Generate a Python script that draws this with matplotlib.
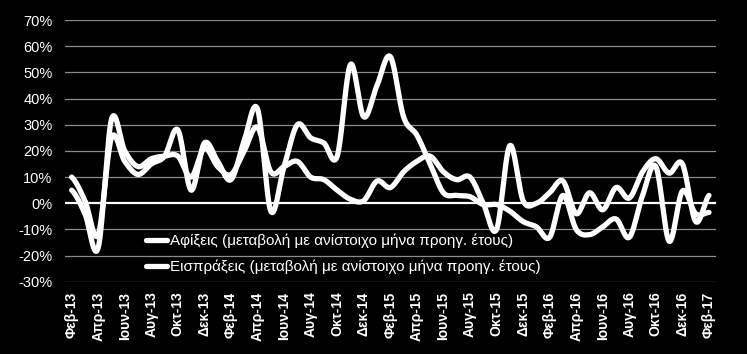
import numpy as np
import matplotlib.pyplot as plt

plt.rcParams['font.family'] = ['Liberation Sans', 'DejaVu Sans']

months_gr = ["Ιαν", "Φεβ", "Μαρ", "Απρ", "Μαϊ", "Ιουν", "Ιουλ", "Αυγ", "Σεπ", "Οκτ", "Νοε", "Δεκ"]
# Feb-2013 .. Feb-2017
labels = []
for k in range(49):
    m = (1 + k) % 12
    y = 13 + (1 + k) // 12
    labels.append(f"{months_gr[m]}-{y}")

afixeis = [10, 1, -12, 25, 16, 11, 15, 18, 28, 5, 23, 16, 9, 24, 36, -3, 14, 30, 25, 23, 18, 53, 33, 45, 56,
           33, 26, 15, 4, 3, 2.5, -0.5, -0.5, -3, -7, -9, -13, 3, -10, -12, -9, -6, -13, 3, 14, -14.5, 4.7, -4, -3.5]
eispraxeis = [5, -4, -17, 32, 20, 14, 17, 18, 18, 10, 21, 14, 11, 20, 29, 12, 14, 16, 10, 9, 5, 1.5, 1, 8.5, 6,
              12, 16, 18, 12, 9, 10, 0, -10, 22, 1, 0, 4, 8.5, -4, 4, -2.5, 6, 2, 12, 17, 11.5, 15, -7, 3]

series_names = ["Αφίξεις (μεταβολή με ανίστοιχο μήνα προηγ. έτους)",
                "Εισπράξεις (μεταβολή με ανίστοιχο μήνα προηγ. έτους)"]


def smooth(vals, n=20):
    # Catmull-Rom style smoothing, like Excel's "smoothed line"
    p = np.asarray(vals, dtype=float)
    p = np.concatenate([[p[0]], p, [p[-1]]])
    xs, ys = [], []
    t = np.linspace(0, 1, n, endpoint=False)
    for i in range(1, len(p) - 2):
        p0, p1, p2, p3 = p[i - 1], p[i], p[i + 1], p[i + 2]
        yy = 0.5 * ((2 * p1) + (-p0 + p2) * t + (2 * p0 - 5 * p1 + 4 * p2 - p3) * t ** 2
                    + (-p0 + 3 * p1 - 3 * p2 + p3) * t ** 3)
        xs.extend(i - 1 + t)
        ys.extend(yy)
    xs.append(len(vals) - 1)
    ys.append(vals[-1])
    return np.array(xs), np.array(ys)


fig = plt.figure(figsize=(7.47, 3.54), dpi=100, facecolor="black")
ax = fig.add_axes([0.087, 0.204, 0.871, 0.7395], facecolor="black")

for v in range(-30, 80, 10):
    if v != 0:
        ax.axhline(v, color="#8c8c8c", lw=0.9, zorder=1)
ax.axhline(0, color="white", lw=1.6, zorder=2)

for vals, name in zip([afixeis, eispraxeis], series_names):
    xs, ys = smooth(vals)
    ax.plot(xs, ys, color="white", lw=3.8, solid_capstyle="round", zorder=3, label=name)

ax.set_xlim(-0.5, 48.5)
ax.set_ylim(-30, 70)
ax.set_yticks(range(-30, 80, 10))
ax.set_yticklabels([f"{v}%" for v in range(-30, 80, 10)], color="white", fontsize=10.5)
ax.set_xticks(range(0, 49, 2))
ax.set_xticklabels(labels[::2], rotation=90, color="white", fontsize=10, fontweight="bold")
ax.tick_params(axis="y", length=0, pad=9)
ax.tick_params(axis="x", length=0, pad=7)
for s in ax.spines.values():
    s.set_visible(False)

leg = ax.legend(loc="center left", bbox_to_anchor=(138 / 747, 1 - 254 / 354),
                bbox_transform=fig.transFigure, frameon=False, fontsize=11,
                handlelength=1.4, handletextpad=0.2, labelspacing=0.75, borderpad=0)
for t in leg.get_texts():
    t.set_color("white")

fig.savefig("out.png", dpi=100, facecolor="black")
